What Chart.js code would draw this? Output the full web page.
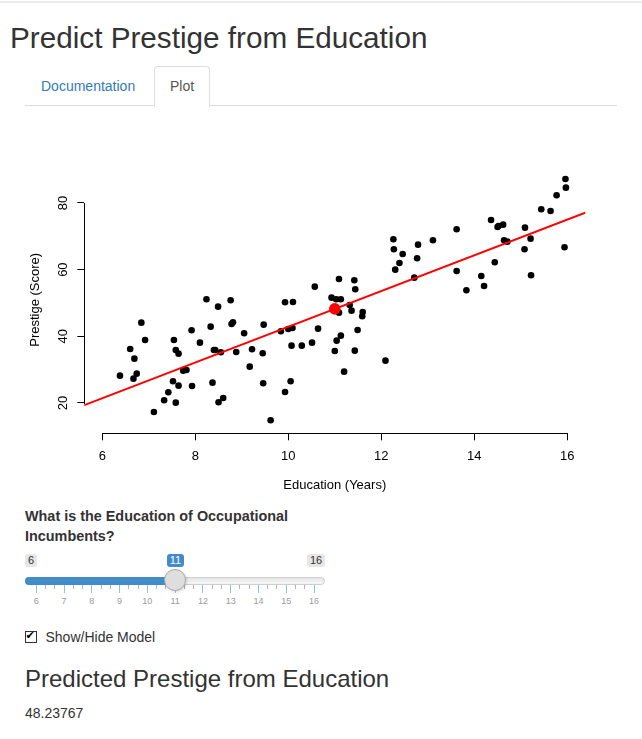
<!DOCTYPE html>
<html>
<head>
<meta charset="utf-8">
<script src="https://cdn.jsdelivr.net/npm/chart.js@4.4.0/dist/chart.umd.min.js"></script>
<style>
  html, body { margin:0; padding:0; background:#fff; }
  body { width:642px; height:739px; position:relative; overflow:hidden;
         font-family:'Liberation Sans', Arial, Helvetica, sans-serif; color:#333; }
  .abs { position:absolute; white-space:nowrap; }
  #topline { left:0; top:1px; width:642px; height:2px; background:#ebebeb; }
  #title { left:10px; top:23.2px; font-size:29.7px; line-height:30px; color:#333; }
  #navline { left:25px; top:105px; width:592px; height:1px; background:#ddd; }
  #tabActive { left:154px; top:65.5px; width:56px; height:41px; border:1px solid #ddd; border-bottom:none;
               border-radius:4px 4px 0 0; background:#fff; box-sizing:border-box; }
  #tabDoc { left:41px; top:79.2px; font-size:14px; line-height:14px; color:#337ab7; }
  #tabPlot { left:170px; top:79.2px; font-size:14px; line-height:14px; color:#555; }
  #chartBox { left:0; top:120px; width:642px; height:380px; }
  #qlabel { left:25px; top:507px; width:300px; font-size:14.4px; line-height:19.5px; font-weight:bold;
            color:#333; white-space:normal; }
  .irs-lbl { position:absolute; top:554px; font-size:11px; line-height:11px; padding:1px 3px; border-radius:3px; }
  .irs-mm { background:#e6e6e6; color:#333; }
  .irs-single { background:#428bca; color:#fff; }
  #irsLine { left:25px; top:576.5px; width:300px; height:8px; border:1px solid #cfcfcf; border-radius:16px;
             box-sizing:border-box; background:linear-gradient(to bottom, #ddd -50%, #fff 150%); }
  #irsBar { left:25px; top:576.5px; height:8px; background:#428bca; border-radius:16px 0 0 16px; }
  #irsHandle { width:22px; height:22px; border-radius:50%; background:#dedede; border:1px solid #ababab;
               box-sizing:border-box; box-shadow:1px 1px 3px rgba(0,0,0,0.15); }
  .gpol { position:absolute; width:1px; }
  .gtxt { position:absolute; font-size:9px; line-height:9px; color:#999; transform:translateX(-50%); }
  #cbox { left:25px; top:631px; width:12px; height:12px; border:1px solid #333; box-sizing:border-box; background:#fff; }
  #cmark { left:25.5px; top:629px; font-size:11px; line-height:14px; color:#000; font-family:'DejaVu Sans', sans-serif; }
  #cbtxt { left:45.5px; top:629.9px; font-size:14px; line-height:14px; color:#333; }
  #h3 { left:25px; top:666.7px; font-size:24px; line-height:24px; color:#333; }
  #pred { left:25px; top:706.4px; font-size:14px; line-height:14px; color:#333; }
</style>
</head>
<body>
<div id="topline" class="abs"></div>
<div id="title" class="abs">Predict Prestige from Education</div>
<div id="navline" class="abs"></div>
<div id="tabActive" class="abs"></div>
<div id="tabDoc" class="abs">Documentation</div>
<div id="tabPlot" class="abs">Plot</div>
<div id="chartBox" class="abs"><canvas id="c"></canvas></div>
<div id="qlabel" class="abs">What is the Education of Occupational Incumbents?</div>
<div id="slider"></div>
<div id="cbox" class="abs"></div>
<div id="cmark" class="abs">&#10004;</div>
<div id="cbtxt" class="abs">Show/Hide Model</div>
<div id="h3" class="abs">Predicted Prestige from Education</div>
<div id="pred" class="abs"></div>
<script>
// ---- data (Prestige data: education in years, prestige score) ----
const education = [13.11,12.26,12.77,11.42,14.62,15.64,15.09,15.44,14.52,14.64,12.39,12.30,13.83,14.44,14.36,14.21,15.77,14.15,15.22,14.50,15.97,13.62,15.08,15.96,15.94,14.71,12.46,9.45,13.62,15.21,12.79,11.09,12.71,11.44,11.59,11.49,11.32,10.64,11.36,9.17,12.09,11.04,9.22,10.07,10.51,11.20,11.13,11.43,11.00,9.84,11.13,10.05,9.62,9.93,11.60,11.09,11.03,9.47,10.93,7.74,8.50,10.57,9.46,7.33,7.11,7.58,6.84,8.60,8.88,7.54,7.64,7.64,7.42,6.69,6.74,10.09,8.81,8.40,7.92,8.43,8.78,8.76,10.29,6.38,8.10,10.10,6.67,9.05,9.93,8.24,6.92,6.60,7.81,8.33,7.52,12.27,8.49,7.58,7.93,8.37,10.00,8.55];
const prestige  = [68.8,69.1,63.4,56.8,73.5,77.6,72.6,78.1,73.1,68.8,62.0,60.0,53.8,62.2,74.9,55.1,82.3,58.1,58.3,72.8,84.6,59.6,66.1,87.2,66.7,68.4,64.7,34.9,72.1,69.3,67.5,57.2,57.6,54.1,46.0,41.9,49.4,42.3,47.7,30.9,32.7,38.7,36.1,37.2,38.1,29.4,51.1,35.7,35.6,41.5,40.2,26.5,14.8,23.3,47.3,47.1,51.1,43.5,51.6,29.7,20.2,54.9,25.9,20.8,17.3,20.1,44.1,21.5,35.3,38.9,25.2,34.8,23.2,33.3,28.8,42.5,44.2,35.9,41.8,35.9,43.7,50.8,37.2,28.2,38.1,50.3,27.3,40.9,50.2,51.1,38.9,36.2,29.9,42.9,26.5,66.1,48.9,35.9,25.1,26.1,42.2,35.2];
const fitLineX = [5.6, 16.4];
const fitLineY = [19.29, 77.18];
const selectedEducation = 11;
const predictedPrestige = 48.23767;
const xTicks = [6, 8, 10, 12, 14, 16];
const yTicks = [20, 40, 60, 80];
const sliderMin = 6, sliderMax = 16;

const FONT = "'Liberation Sans', Arial, Helvetica, sans-serif";
document.getElementById('pred').textContent = predictedPrestige.toFixed(5);

// ---- slider (HTML) ----
(function(){
  const s = document.getElementById('slider');
  const x0 = 36.3, x1 = 314.0;
  const px = v => x0 + (v - sliderMin) * (x1 - x0) / (sliderMax - sliderMin);
  let html = '';
  html += '<div id="irsLine" class="abs"></div>';
  html += '<div id="irsBar" class="abs" style="width:' + (px(selectedEducation) - 25) + 'px"></div>';
  for (let i = 0; i <= (sliderMax - sliderMin) * 3; i++) {
    const v = sliderMin + i / 3;
    const major = i % 3 === 0;
    html += '<div class="gpol" style="left:' + (px(v) - 0.5) + 'px;top:584.5px;height:' + (major ? 8 : 4) +
            'px;background:' + (major ? 'rgba(66,139,202,0.55)' : 'rgba(0,0,0,0.3)') + '"></div>';
    if (major) html += '<div class="gtxt" style="left:' + px(v) + 'px;top:597px">' + Math.round(v) + '</div>';
  }
  html += '<div id="irsHandle" class="abs" style="left:' + (px(selectedEducation) - 11) + 'px;top:569px"></div>';
  html += '<div class="irs-lbl irs-mm" style="left:25px">' + sliderMin + '</div>';
  html += '<div class="irs-lbl irs-single" id="single">' + selectedEducation + '</div>';
  html += '<div class="irs-lbl irs-mm" id="maxl">' + sliderMax + '</div>';
  s.innerHTML = html;
  const sg = document.getElementById('single');
  sg.style.left = (px(selectedEducation) - sg.offsetWidth / 2) + 'px';
  const mx = document.getElementById('maxl');
  mx.style.left = (325 - mx.offsetWidth) + 'px';
})();

// ---- chart ----
const points = education.map((e, i) => ({ x: e, y: prestige[i] }));
const fitLine = fitLineX.map((x, i) => ({ x: x, y: fitLineY[i] }));

const rAxes = {
  id: 'rAxes',
  afterDraw(chart) {
    const ctx = chart.ctx, xs = chart.scales.x, ys = chart.scales.y, ca = chart.chartArea;
    ctx.save();
    ctx.strokeStyle = '#000';
    ctx.lineWidth = 1;
    const yb = Math.round(ca.bottom) + 0.5, xl = Math.round(ca.left) + 0.5;
    ctx.beginPath();
    ctx.moveTo(Math.round(xs.getPixelForValue(xTicks[0])), yb);
    ctx.lineTo(Math.round(xs.getPixelForValue(xTicks[xTicks.length - 1])) + 1, yb);
    ctx.moveTo(xl, Math.round(ys.getPixelForValue(yTicks[yTicks.length - 1])));
    ctx.lineTo(xl, Math.round(ys.getPixelForValue(yTicks[0])) + 1);
    ctx.stroke();
    ctx.fillStyle = '#000';
    ctx.font = '13px ' + FONT;
    ctx.textAlign = 'center';
    ctx.textBaseline = 'middle';
    yTicks.forEach(v => {
      ctx.save();
      ctx.translate(ca.left - 21, ys.getPixelForValue(v));
      ctx.rotate(-Math.PI / 2);
      ctx.fillText(String(v), 0, 0);
      ctx.restore();
    });
    ctx.restore();
  }
};

new Chart(document.getElementById('c'), {
  type: 'scatter',
  data: {
    datasets: [
      { label: 'Occupations', data: points, backgroundColor: '#000', borderWidth: 0, pointRadius: 3.3,
        pointHoverRadius: 3.3, order: 3 },
      { label: 'Model', data: fitLine, showLine: true, borderColor: '#ff0000', borderWidth: 2,
        pointRadius: 0, fill: false, order: 2 },
      { label: 'Prediction', data: [{ x: selectedEducation, y: predictedPrestige }], backgroundColor: '#ff0000',
        borderWidth: 0, pointRadius: 5.8, order: 1 }
    ]
  },
  options: {
    responsive: true,
    maintainAspectRatio: false,
    animation: false,
    events: [],
    layout: { padding: { left: 0, right: 56.7, top: 46.3, bottom: 0 } },
    plugins: { legend: { display: false }, tooltip: { enabled: false } },
    scales: {
      x: {
        type: 'linear', min: 5.613, max: 16.387,
        afterBuildTicks: s => { s.ticks = xTicks.map(v => ({ value: v })); },
        afterFit: s => { s.height = 66.7; },
        border: { display: false },
        grid: { drawOnChartArea: false, drawTicks: true, tickLength: 7, color: '#000', lineWidth: 1 },
        ticks: { color: '#000', font: { family: FONT, size: 13 }, padding: 8, maxRotation: 0, autoSkip: false,
                 callback: v => String(v) },
        title: { display: true, text: 'Education (Years)', color: '#000', font: { family: FONT, size: 13 },
                 padding: { top: 0, bottom: 7.2 } }
      },
      y: {
        type: 'linear', min: 10.9, max: 91.0,
        afterBuildTicks: s => { s.ticks = yTicks.map(v => ({ value: v })); },
        afterFit: s => { s.width = 84.3; },
        border: { display: false },
        grid: { drawOnChartArea: false, drawTicks: true, tickLength: 7, color: '#000', lineWidth: 1 },
        ticks: { display: false },
        title: { display: true, text: 'Prestige (Score)', color: '#000', font: { family: FONT, size: 13 },
                 padding: { top: 27.2, bottom: 0 } }
      }
    }
  },
  plugins: [rAxes]
});
</script>
</body>
</html>
